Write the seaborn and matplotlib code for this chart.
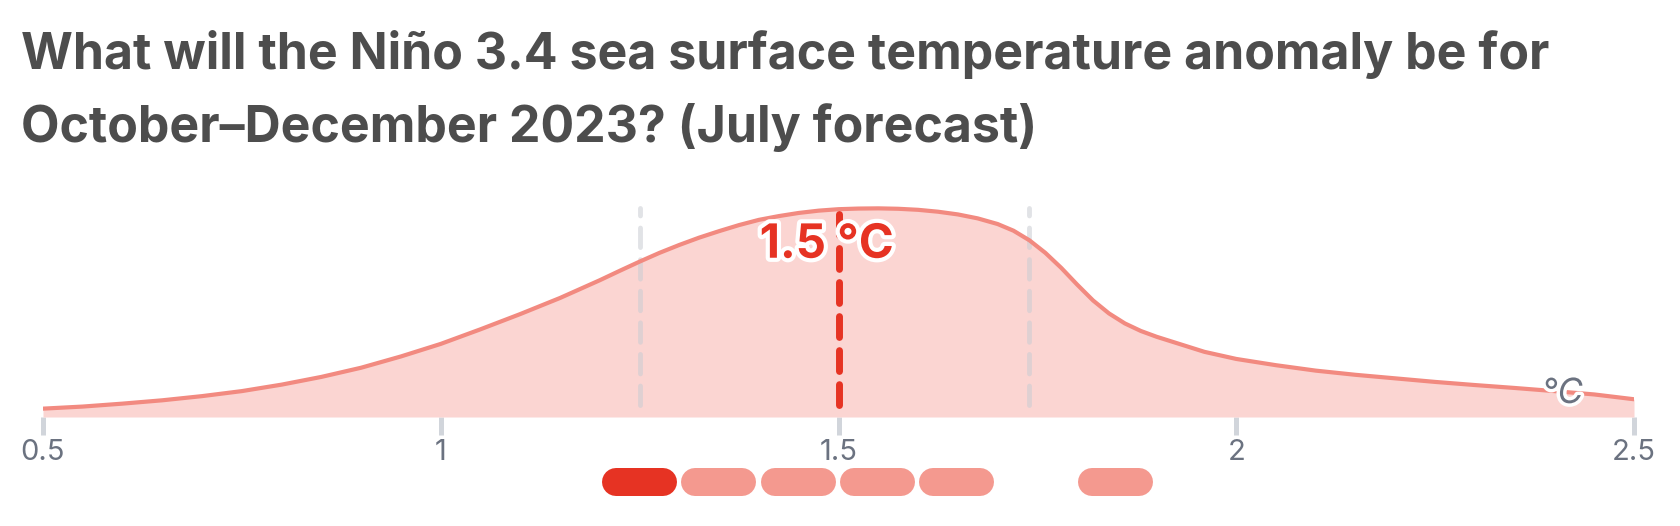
import numpy as np
import pandas as pd
import matplotlib
matplotlib.use('Agg')
import matplotlib.pyplot as plt
import matplotlib.patheffects as pe
import seaborn as sns

# forecast density (normalised to peak = 1)
anomaly = [0.50, 0.55, 0.60, 0.65, 0.70, 0.75, 0.80, 0.85, 0.90, 0.95,
           1.00, 1.05, 1.10, 1.15, 1.20, 1.225, 1.25, 1.275, 1.30, 1.325,
           1.35, 1.375, 1.40, 1.425, 1.45, 1.475, 1.50, 1.525, 1.55, 1.575,
           1.60, 1.625, 1.65, 1.675, 1.70, 1.72, 1.74, 1.76, 1.78, 1.80,
           1.82, 1.84, 1.86, 1.88, 1.90, 1.93, 1.96, 2.00, 2.05, 2.10,
           2.15, 2.20, 2.25, 2.30, 2.35, 2.40, 2.45, 2.50]
density = [0.040, 0.050, 0.064, 0.080, 0.100, 0.124, 0.155, 0.192, 0.236, 0.290,
           0.350, 0.420, 0.493, 0.570, 0.655, 0.700, 0.744, 0.786, 0.824, 0.859,
           0.890, 0.919, 0.944, 0.962, 0.977, 0.988, 0.995, 0.998, 0.999, 0.997,
           0.992, 0.983, 0.970, 0.951, 0.924, 0.892, 0.846, 0.786, 0.714, 0.634,
           0.558, 0.496, 0.448, 0.412, 0.384, 0.348, 0.312, 0.278, 0.248, 0.222,
           0.202, 0.185, 0.168, 0.153, 0.139, 0.124, 0.108, 0.085]

median = 1.5
quartiles = [1.25, 1.74]
xticks = [0.5, 1, 1.5, 2, 2.5]
xtick_labels = ['0.5', '1', '1.5', '2', '2.5']

# carousel pills underneath (slot index, active?)
pill_slots = [0, 1, 2, 3, 4, 6]
pill_active = [True, False, False, False, False, False]

title = ("What will the Niño 3.4 sea surface temperature anomaly be for\n"
         "October–December 2023? (July forecast)")

RED = '#e63323'
LINE = '#f28a80'
FILL = '#fbd5d2'
PILL = '#f4998f'
GRAY = '#6b7280'

sns.set_theme(style='white')
plt.rcParams['font.family'] = ['Inter', 'DejaVu Sans']

df = pd.DataFrame({'anomaly': anomaly, 'density': density})

fig = plt.figure(figsize=(16.8, 5.26), dpi=100)
ax = fig.add_axes([43 / 1680, 109 / 526, 1591 / 1680, 0.405])

ax.fill_between(df.anomaly, 0, df.density, color=FILL, lw=0, zorder=1)
sns.lineplot(data=df, x='anomaly', y='density', color=LINE, lw=3,
             solid_capstyle='round', solid_joinstyle='round', ax=ax, zorder=3)

for q in quartiles:
    ax.plot([q, q], [0.056, 1.0], color='#c9ccd3', alpha=0.55, lw=3.5,
            dashes=(4, 2.5), dash_capstyle='round', zorder=2)
ax.plot([median, median], [0.056, 1.015], color=RED, lw=5,
        dashes=(3.0, 1.9), dash_capstyle='round', zorder=4)

ax.text(median - 0.015, 0.82, '1.5 °C', color=RED, fontsize=34,
        fontweight='bold', ha='center', va='center', zorder=5,
        path_effects=[pe.withStroke(linewidth=6, foreground='white')])
ax.text(2.41, 0.11, '°C', color=GRAY, fontsize=25, style='italic',
        ha='center', va='center', zorder=5,
        path_effects=[pe.withStroke(linewidth=5, foreground='white')])

ax.set_xlim(0.5, 2.5)
ax.set_ylim(0, 1.02)
ax.set_xticks(xticks)
ax.set_xticklabels(xtick_labels)
ax.set_yticks([])
ax.set_xlabel('')
ax.set_ylabel('')
ax.tick_params(axis='x', length=13, width=3.6, color='#d1d5db',
               labelcolor=GRAY, labelsize=21, pad=3, direction='out')
ax.xaxis.set_ticks_position('bottom')
for s in ax.spines.values():
    s.set_visible(False)

# pills in figure pixel coordinates, drawn as round-capped strokes
pax = fig.add_axes([0, 0, 1, 1], facecolor='none')
pax.set_xlim(0, 1680)
pax.set_ylim(526, 0)
pax.axis('off')
for slot, active in zip(pill_slots, pill_active):
    x0 = 602 + slot * 79.3
    pax.plot([x0 + 14, x0 + 61], [482, 482], lw=28 * 0.72,
             solid_capstyle='round', color=RED if active else PILL)

fig.text(21 / 1680, 1 - 30 / 526, title, fontsize=36, fontweight='bold',
         color='#4d4d4d', va='top', ha='left', linespacing=1.62)

fig.savefig('out.png', dpi=100)
